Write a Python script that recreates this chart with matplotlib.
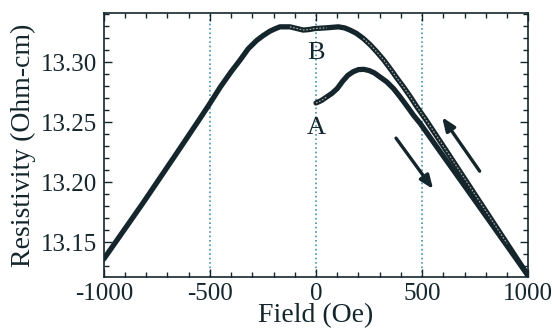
import numpy as np
import matplotlib.pyplot as plt

plt.rcParams['font.family'] = ['Liberation Serif', 'DejaVu Serif']
plt.rcParams['axes.unicode_minus'] = False

# sweep A: virgin curve, 0 -> +1000 Oe
field_a = [0, 25, 50, 75, 100, 125, 150, 175, 200, 225, 250, 275, 300, 333, 365, 396,
           430, 459, 491, 600, 700, 800, 900, 1000]
rho_a = [13.266, 13.268, 13.271, 13.274, 13.278, 13.284, 13.289, 13.292, 13.2938,
         13.2940, 13.2930, 13.2910, 13.2878, 13.2836, 13.278, 13.2711, 13.263,
         13.2558, 13.2489, 13.2217, 13.1969, 13.1720, 13.1470, 13.1220]

# sweep B: return curve, +1000 -> -1000 Oe
field_b = [-1000, -816, -657, -547, -500, -450, -400, -358, -320, -280, -250, -217,
           -190, -170, -123, -90, -60, -30, -5, 50, 105, 135, 160, 190, 223, 255, 286,
           318, 349, 380, 412, 445, 475, 514, 600, 700, 800, 900, 1000]
rho_b = [13.136, 13.1825, 13.224, 13.253, 13.2656, 13.2795, 13.292, 13.3017, 13.311,
         13.318, 13.322, 13.3258, 13.328, 13.3294, 13.3294, 13.328, 13.3267, 13.3272,
         13.328, 13.3286, 13.3294, 13.3285, 13.3267, 13.324, 13.3197, 13.3145,
         13.3086, 13.302, 13.2947, 13.287, 13.2794, 13.271, 13.2628, 13.253, 13.230,
         13.203, 13.176, 13.149, 13.122]

ink = '#14262c'

fig = plt.figure(figsize=(5.52, 3.31), dpi=100)
ax = fig.add_axes([0.188, 0.163, 0.769, 0.798])

for xv in [-500, 0, 500]:
    ax.axvline(xv, color='#4a8fb0', linestyle=':', linewidth=1.2, zorder=1)

fa = np.array(field_a)
ra = np.array(rho_a)
fb = np.array(field_b)
rb = np.array(rho_b)

ax.plot(fb, rb, color=ink, linewidth=3.8, solid_capstyle='round',
        solid_joinstyle='round', zorder=3)
ax.plot(fa, ra, color=ink, linewidth=3.8, solid_capstyle='round',
        solid_joinstyle='round', zorder=4)

# open-symbol look on parts of the traces
m = ((fb >= -150) & (fb <= 100)) | ((fb >= 223) & (fb <= 960))
seg = np.where(m, rb, np.nan)
ax.plot(fb, seg, color='#b8b0a8', linewidth=0.8, dashes=(1.5, 1.5), zorder=5)
ma = fa <= 60
ax.plot(fa[ma], ra[ma], color='#b8b0a8', linewidth=0.8, dashes=(1.5, 1.5), zorder=5)

# sweep direction arrows
arrow = dict(arrowstyle='-|>,head_length=0.8,head_width=0.32', color=ink, lw=2.4,
             shrinkA=0, shrinkB=0)
ax.annotate('', xy=(552, 13.1942), xytext=(377, 13.2367), arrowprops=arrow, zorder=6)
ax.annotate('', xy=(594, 13.2542), xytext=(771, 13.2092), arrowprops=arrow, zorder=6)

ax.text(0, 13.3075, 'B', fontsize=19, color=ink, ha='center', va='center', zorder=6)
ax.text(0, 13.245, 'A', fontsize=19, color=ink, ha='center', va='center', zorder=6)

ax.set_xlim(-1000, 1000)
ax.set_ylim(13.121, 13.341)
ax.set_xticks([-1000, -500, 0, 500, 1000])
ax.set_xticks(np.arange(-900, 1000, 100), minor=True)
ax.set_yticks([13.15, 13.20, 13.25, 13.30])
ax.set_yticks(np.arange(13.13, 13.345, 0.01), minor=True)
ax.set_yticklabels(['13.15', '13.20', '13.25', '13.30'])

ax.tick_params(which='both', direction='in', top=True, right=True, colors=ink,
               labelsize=18, width=1.0)
ax.tick_params(which='major', length=6)
ax.tick_params(axis='x', which='major', pad=4)
ax.tick_params(axis='y', which='major', pad=5)
ax.tick_params(which='minor', length=3.5)
for s in ax.spines.values():
    s.set_color(ink)
    s.set_linewidth(1.2)

ax.set_xlabel('Field (Oe)', fontsize=20, color=ink, labelpad=-1)
ax.set_ylabel('Resistivity (Ohm-cm)', fontsize=20, color=ink, labelpad=3)

fig.savefig('out.png', dpi=100)
